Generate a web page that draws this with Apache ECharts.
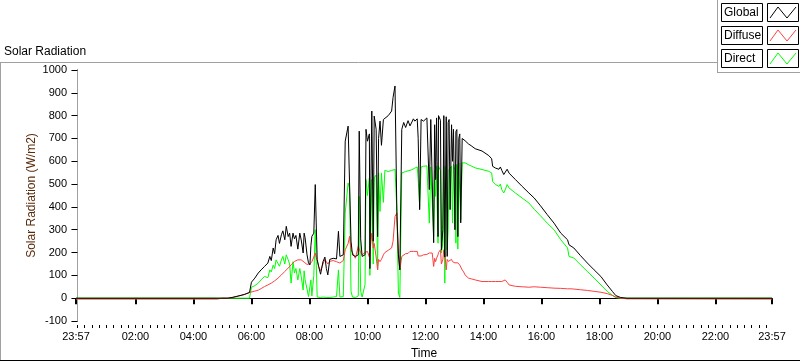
<!DOCTYPE html>
<html>
<head>
<meta charset="utf-8">
<script src="https://cdn.jsdelivr.net/npm/echarts@6/dist/echarts.min.js"></script>
<style>
  html, body { margin: 0; padding: 0; background: #fff; }
  #chart { width: 800px; height: 361px; }
</style>
</head>
<body>
<div id="chart"></div>
<script>
// time axis in minutes after midnight; -3 = 23:57 previous day, 1437 = 23:57
const minutes = [
  -3, 290, 298, 311, 320, 330, 345, 356, 358, 360, 367, 374, 380, 387, 394, 398, 401, 405, 408, 411,
  415, 418, 422, 425, 429, 432, 436, 439, 442, 446, 449, 452, 456, 460, 463, 467, 469, 471, 475, 478,
  481, 483, 485, 489, 492, 494, 496, 499, 503, 508, 512, 515, 518, 522, 529, 536, 540, 543, 550, 554,
  560, 563, 566, 569, 575, 581, 583, 586, 589, 595, 597, 600, 604, 605, 609, 612, 614, 618, 621, 623,
  626, 629, 633, 636, 643, 650, 653, 657, 661, 664, 667, 671, 675, 679, 684, 688, 692, 695, 698, 703,
  705, 708, 711, 716, 723, 728, 731, 734, 737, 739, 741, 743, 744, 746, 747, 751, 753, 756, 758, 760,
  763, 765, 767, 769, 771, 774, 776, 778, 781, 783, 785, 787, 789, 791, 793, 796, 799, 802, 809, 816,
  823, 837, 851, 857, 859, 865, 868, 872, 875, 878, 882, 885, 889, 893, 896, 906, 920, 934, 945, 958,
  972, 986, 1000, 1014, 1017, 1021, 1027, 1041, 1055, 1069, 1083, 1096, 1107, 1114, 1124, 1137, 1437
];
const globalVals = [
  0, 0, 0, 0, 3, 8, 16, 25, 30, 70, 88, 110, 124, 139, 154, 183, 165, 220, 195, 256,
  275, 240, 278, 295, 256, 315, 270, 285, 227, 285, 260, 275, 215, 285, 255, 198, 285, 265, 190, 155,
  146, 230, 271, 285, 498, 330, 170, 139, 105, 160, 180, 130, 102, 170, 175, 172, 293, 183, 190, 688,
  754, 754, 250, 190, 183, 190, 732, 260, 183, 190, 740, 688, 720, 130, 820, 250, 798, 740, 270, 700,
  776, 670, 783, 790, 800, 820, 880, 930, 358, 190, 124, 740, 770, 748, 778, 755, 772, 786, 776, 786,
  700, 388, 783, 776, 790, 476, 783, 783, 243, 760, 520, 790, 600, 270, 800, 780, 212, 300, 800, 180,
  795, 183, 770, 783, 388, 760, 600, 740, 300, 730, 739, 270, 700, 720, 330, 700, 703, 690, 676, 666,
  655, 645, 625, 611, 578, 570, 578, 565, 575, 560, 542, 550, 565, 548, 545, 520, 490, 461, 439, 405,
  366, 329, 285, 256, 234, 240, 220, 186, 154, 124, 95, 58, 29, 11, 3, 0, 0
];
const diffuseVals = [
  -4, -4, 0, 0, 3, 8, 16, 25, 27, 29, 31, 35, 42, 51, 58, 62, 66, 72, 76, 80,
  88, 95, 102, 110, 117, 124, 132, 139, 146, 152, 161, 164, 168, 168, 168, 162, 158, 154, 148, 146,
  150, 155, 160, 180, 198, 180, 165, 140, 120, 150, 170, 160, 150, 161, 165, 160, 154, 154, 165, 212,
  240, 271, 212, 200, 175, 227, 215, 200, 190, 200, 200, 205, 180, 200, 285, 220, 240, 180, 124, 170,
  160, 170, 190, 200, 210, 220, 250, 358, 373, 200, 124, 183, 190, 195, 196, 205, 200, 205, 212, 205,
  185, 183, 185, 190, 192, 198, 205, 198, 139, 175, 160, 175, 170, 190, 200, 212, 150, 170, 212, 200,
  124, 170, 161, 165, 155, 170, 160, 161, 155, 155, 150, 155, 150, 145, 140, 124, 115, 102, 88, 84,
  80, 73, 73, 73, 73, 73, 73, 73, 73, 73, 76, 80, 70, 58, 54, 52, 50, 48, 50, 48,
  46, 44, 43, 41, 41, 41, 40, 37, 34, 30, 26, 20, 12, 5, 0, -3, -4
];
const directVals = [
  0, 0, 0, 0, 0, 0, 0, 0, 0, 48, 55, 66, 80, 95, 90, 124, 115, 145, 130, 168,
  176, 140, 168, 183, 150, 190, 168, 150, 66, 160, 110, 130, 80, 130, 95, 36, 120, 80, 40, 7,
  0, 80, 10, 100, 300, 160, 5, 10, 3, 5, 8, 3, 5, 3, 5, 7, 124, 5, 7, 373,
  505, 480, 30, 5, 3, 10, 446, 30, 5, 60, 520, 450, 527, 100, 520, 150, 527, 540, 124, 549,
  380, 549, 420, 560, 555, 560, 560, 564, 380, 22, 3, 549, 552, 555, 558, 560, 563, 568, 570, 575,
  520, 402, 575, 578, 580, 329, 575, 578, 270, 560, 446, 578, 420, 241, 578, 560, 198, 241, 578, 66,
  578, 212, 300, 564, 571, 578, 329, 586, 560, 241, 586, 215, 593, 590, 344, 593, 593, 593, 585, 578,
  571, 564, 556, 549, 512, 498, 505, 490, 500, 475, 461, 475, 498, 483, 480, 461, 439, 417, 390, 361,
  329, 300, 256, 220, 183, 190, 176, 146, 117, 88, 58, 30, 12, 2, 0, 0, 0
];
const seriesNames = ['Global', 'Diffuse', 'Direct'];
const seriesColors = ['#000000', '#ff4040', '#00ff00'];

const xTickValues = [-3, 120, 240, 360, 480, 600, 720, 840, 960, 1080, 1200, 1320, 1437];
const xTickLabels = ['23:57', '02:00', '04:00', '06:00', '08:00', '10:00', '12:00',
  '14:00', '16:00', '18:00', '20:00', '22:00', '23:57'];

// x scale: 696 px for 1440 minutes, starting at 23:57
const plotLeft = 76, plotRight = 28, plotWidth = 800 - plotLeft - plotRight;
const pxPerMin = plotWidth / 1440;
// the minor-tick strip runs 00:00 .. 23:45 every 15 minutes
const minorLeft = plotLeft + 3 * pxPerMin;
const minorRight = 800 - minorLeft - 1425 * pxPerMin;

const chart = echarts.init(document.getElementById('chart'));

function pairs(vals) {
  return minutes.map((m, i) => [m, vals[i]]);
}

// LabVIEW style plot legend, drawn as boxes in the top right corner
const legendItems = [
  { type: 'rect', shape: { x: 717, y: 0, width: 83, height: 72 }, style: { fill: '#fff' } },
  { type: 'line', shape: { x1: 717.5, y1: 0, x2: 717.5, y2: 72 }, style: { stroke: '#a0a0a0' } },
  { type: 'line', shape: { x1: 717, y1: 72.5, x2: 800, y2: 72.5 }, style: { stroke: '#a0a0a0' } },
];
seriesNames.forEach((name, i) => {
  const y = 3 + i * 23;
  legendItems.push(
    { type: 'rect', shape: { x: 721.5, y: y + 0.5, width: 41, height: 18 },
      style: { fill: '#fff', stroke: '#000', lineWidth: 1 } },
    { type: 'text', x: 724, y: y + 10, style: { text: name, fill: '#000', font: '12px "Liberation Sans"',
      verticalAlign: 'middle' } },
    { type: 'rect', shape: { x: 767.5, y: y + 0.5, width: 31, height: 18 },
      style: { fill: '#fff', stroke: '#000', lineWidth: 1 } },
    { type: 'polyline', shape: { points: [[770, y + 15], [778, y + 4], [787, y + 15], [796, y + 4]] },
      style: { stroke: seriesColors[i], lineWidth: 1, fill: null } }
  );
});

chart.setOption({
  animation: false,
  backgroundColor: '#fff',
  textStyle: { fontFamily: 'Liberation Sans' },
  title: {
    text: 'Solar Radiation', left: -1, top: 41,
    textStyle: { fontSize: 12, fontWeight: 'normal', color: '#000' }
  },
  grid: [
    { left: plotLeft, right: plotRight, top: 70, bottom: 40, outerBoundsMode: 'none' },
    { left: minorLeft, right: minorRight, top: 324, height: 1, outerBoundsMode: 'none' }
  ],
  xAxis: [
    {
      type: 'value', min: -3, max: 1437, position: 'bottom',
      name: 'Time', nameLocation: 'middle', nameGap: 27, nameMoveOverlap: false,
      nameTextStyle: { color: '#000', fontSize: 12 },
      axisLine: { lineStyle: { color: '#a0a0a0', width: 1 } },
      axisTick: { customValues: xTickValues, length: 6, lineStyle: { color: '#000', width: 2 } },
      axisLabel: {
        customValues: xTickValues, color: '#000', fontSize: 11, margin: 10,
        formatter: (v) => xTickLabels[xTickValues.indexOf(v)]
      },
      splitLine: { show: false }
    },
    {
      type: 'value', min: -3, max: 1437, position: 'top',
      axisLine: { lineStyle: { color: '#000', width: 1 } },
      axisTick: { show: false }, axisLabel: { show: false }, splitLine: { show: false }
    },
    {
      gridIndex: 1, type: 'value', min: 0, max: 1425, interval: 15, position: 'bottom',
      axisLine: { show: true, lineStyle: { color: 'rgba(0,0,0,0)' } },
      axisTick: { show: true, length: 3, lineStyle: { color: '#000', width: 1 } },
      axisLabel: { show: false }, splitLine: { show: false }
    }
  ],
  yAxis: [
    {
      type: 'value', min: -100, max: 1000, interval: 100, position: 'left',
      name: 'Solar Radiation (W/m2)', nameLocation: 'middle', nameGap: 38, nameMoveOverlap: false,
      nameTextStyle: { color: '#5a2a0a', fontSize: 12 },
      axisLine: { show: true, lineStyle: { color: '#000', width: 1 } },
      axisTick: { show: true, length: 6, lineStyle: { color: '#000' } },
      axisLabel: { color: '#000', fontSize: 11, margin: 9, formatter: (v) => String(v) },
      splitLine: { show: false }
    },
    {
      type: 'value', min: -100, max: 1000, interval: 100, position: 'right',
      axisLine: { show: true, lineStyle: { color: '#a0a0a0', width: 1 } },
      axisTick: { show: false }, axisLabel: { show: false }, splitLine: { show: false }
    },
    { gridIndex: 1, type: 'value', show: false }
  ],
  series: [
    { name: 'Direct', type: 'line', data: pairs(directVals), showSymbol: false,
      lineStyle: { width: 1, color: seriesColors[2] }, itemStyle: { color: seriesColors[2] } },
    { name: 'Diffuse', type: 'line', data: pairs(diffuseVals), showSymbol: false,
      lineStyle: { width: 1, color: seriesColors[1] }, itemStyle: { color: seriesColors[1] } },
    { name: 'Global', type: 'line', data: pairs(globalVals), showSymbol: false,
      lineStyle: { width: 1, color: seriesColors[0] }, itemStyle: { color: seriesColors[0] } }
  ],
  graphic: [
    // outer panel frame
    { type: 'line', shape: { x1: 0, y1: 62.5, x2: 717, y2: 62.5 }, style: { stroke: '#a0a0a0' }, z: 50 },
    { type: 'line', shape: { x1: 0.5, y1: 62, x2: 0.5, y2: 361 }, style: { stroke: '#a0a0a0' }, z: 50 },
    { type: 'line', shape: { x1: 0, y1: 360.5, x2: 800, y2: 360.5 }, style: { stroke: '#000' }, z: 50 },
    { type: 'group', z: 100, children: legendItems }
  ]
});
</script>
</body>
</html>
